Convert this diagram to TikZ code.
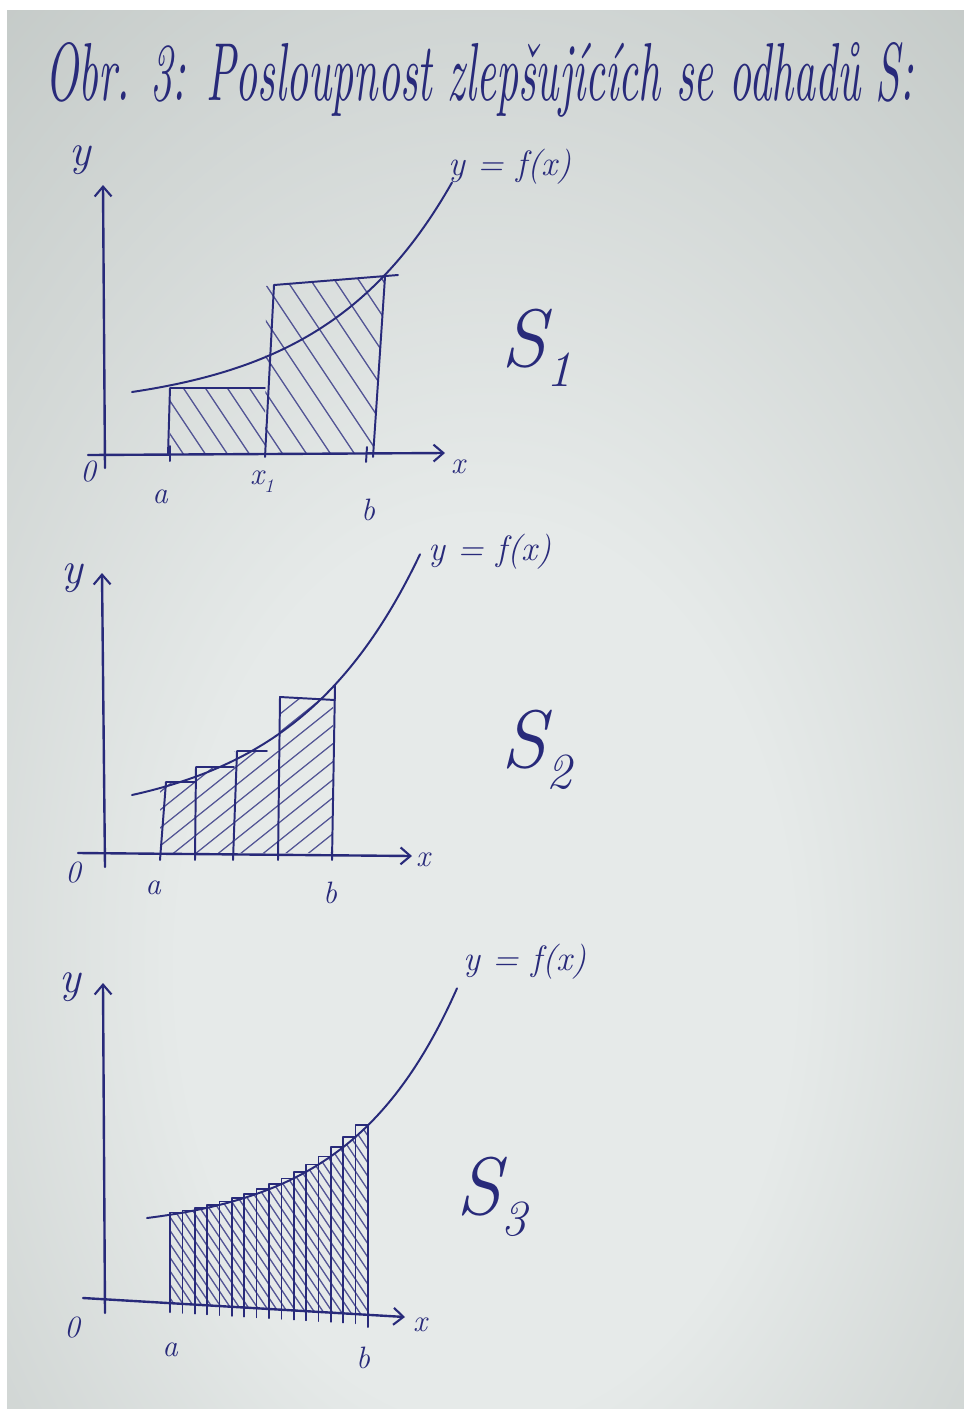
\documentclass[tikz,border=0pt]{standalone}
\usepackage{graphicx}
\usetikzlibrary{arrows.meta}
\definecolor{ink}{RGB}{40,42,122}
\definecolor{pin}{RGB}{230,234,233}
\definecolor{pout}{RGB}{152,160,156}
\pgfdeclareradialshading{paper}{\pgfpoint{0bp}{-12bp}}{color(0bp)=(pin); color(16bp)=(pin); color(72bp)=(pout)}
\newcommand{\sub}[1]{\raisebox{-0.25em}{\scalebox{0.62}{#1}}}
\begin{document}
\begin{tikzpicture}[x=0.025cm,y=-0.025cm,
  axis/.style={ink, line width=1.7pt, line cap=round, -{Straight Barb[length=7pt,width=12pt,line width=1.5pt]}},
  pen/.style={ink, line width=1.4pt, line cap=round, line join=round},
  thinpen/.style={ink, line width=1.1pt, line cap=round, line join=round},
  hatch/.style={ink!80, line width=0.9pt},
  lbl/.style={ink, inner sep=0pt, font=\fontsize{22}{24}\selectfont\itshape},
  ylbl/.style={ink, inner sep=0pt, font=\fontsize{32}{34}\selectfont\itshape},
  flbl/.style={ink, inner sep=0pt, font=\fontsize{25}{28}\selectfont\itshape},
  slbl/.style={ink, inner sep=0pt, font=\fontsize{58}{62}\selectfont\itshape}]
\useasboundingbox (0,0) rectangle (964,1409);
\fill[white] (0,0) rectangle (964,1409);
\shade[shading=paper] (7,10) rectangle (964,1409);

% title
\node[ink, anchor=base west, inner sep=0pt] (title) at (45,100)
  {\resizebox{21.7cm}{1.45cm}{\itshape Obr. 3: Posloupnost zlepšujících se odhadů S:}};

% ---------------- panel 1 ----------------
\begin{scope}
  \clip (170,389) rectangle (265,454);
  \foreach \s in {112,134,...,280} \draw[hatch] (\s,380) -- ++(60,90);
\end{scope}
\begin{scope}
  \clip (266,286) -- (385,277) -- (373,454) -- (265,454) -- cycle;
  \foreach \s in {160,184,...,420} \draw[hatch] (\s,270) -- ++(130,195);
\end{scope}
\draw[pen] (168,455) -- (170,388) -- (265,388);
\draw[pen] (265,457) -- (274,285) -- (398,275);
\draw[pen] (385,277) -- (373,457);
\draw[pen] (170,446) -- (170,461);
\draw[pen] (367,447) -- (366,462);
\draw[pen, domain=132:452, samples=60, smooth] plot (\x, {411.45-19.45*exp(0.0077*(\x-132))});
\draw[axis] (88,455) -- (445,453);
\draw[axis] (105,468) -- (103,185);
\node[ylbl] (p1y) at (80,160) {y};
\node[flbl] (p1f) at (510,167) {y = f(x)};
\node[lbl] (p1o) at (88,472) {0};
\node[lbl] (p1a) at (160,497) {a};
\node[lbl] (p1x1) at (262,482) {x\sub{1}};
\node[lbl] (p1b) at (368,510) {b};
\node[lbl] (p1x) at (458,467) {x};
\node[slbl] (p1S) at (537,348) {S\sub{1}};

% ---------------- panel 2 ----------------
\begin{scope}
  \clip (160,853) rectangle (195,782) (195,853) rectangle (234,767)
        (234,853) rectangle (279,751) (279,853) rectangle (333,698);
  \foreach \s in {700,718,...,1020} \draw[hatch] (140,\s) -- ++(220,-176);
\end{scope}
\draw[pen] (160,860) -- (166,782) -- (195,782);
\draw[pen] (195,860) -- (196,767) -- (234,767);
\draw[pen] (233,860) -- (237,751) -- (267,751);
\draw[pen] (278,860) -- (280,697) -- (335,700);
\draw[pen] (335,685) -- (332,860);
\draw[pen, domain=132:420, samples=60, smooth] plot (\x, {823.5-28.5*exp(0.0078*(\x-132))});
\draw[axis] (78,853) -- (412,856);
\draw[axis] (105,867) -- (102,573);
\node[ylbl] (p2y) at (72,578) {y};
\node[flbl] (p2f) at (490,552) {y = f(x)};
\node[lbl] (p2o) at (73,873) {0};
\node[lbl] (p2a) at (153,888) {a};
\node[lbl] (p2b) at (330,893) {b};
\node[lbl] (p2x) at (423,860) {x};
\node[slbl] (p2S) at (537,750) {S\sub{2}};

% ---------------- panel 3 ----------------
\begin{scope}
  \clip (170,{1298+0.06*(170-83)}) -- plot[domain=170:368, samples=30] (\x, {1231.65-13.65*exp(0.0093*(\x-147))})
        -- (368,{1298+0.06*(368-83)}) -- cycle;
  \foreach \s in {20,29,...,380} \draw[hatch] (\s,1100) -- ++(150,225);
\end{scope}
\foreach \i in {0,...,15} {
  \pgfmathsetmacro\xl{170+\i*12.375}
  \pgfmathsetmacro\xr{\xl+12.375}
  \pgfmathsetmacro\yt{1231.65-13.65*exp(0.0093*(\xr-147))}
  \pgfmathsetmacro\yb{1298+0.06*(\xl-83)+9}
  \draw[thinpen] (\xl,\yb) -- (\xl,\yt) -- (\xr,\yt);
}
\draw[thinpen] (368,{1298+0.06*(368-83)+12}) -- (368,{1231.65-13.65*exp(0.0093*(368-147))});
\draw[pen, domain=147:457, samples=60, smooth] plot (\x, {1231.65-13.65*exp(0.0093*(\x-147))});
\draw[axis] (83,1298) -- (405,1317);
\draw[axis] (105,1313) -- (103,983);
\node[ylbl] (p3y) at (70,987) {y};
\node[flbl] (p3f) at (525,962) {y = f(x)};
\node[lbl] (p3o) at (72,1328) {0};
\node[lbl] (p3a) at (170,1350) {a};
\node[lbl] (p3b) at (363,1358) {b};
\node[lbl] (p3x) at (420,1325) {x};
\node[slbl] (p3S) at (492,1197) {S\sub{3}};
\end{tikzpicture}
\end{document}
